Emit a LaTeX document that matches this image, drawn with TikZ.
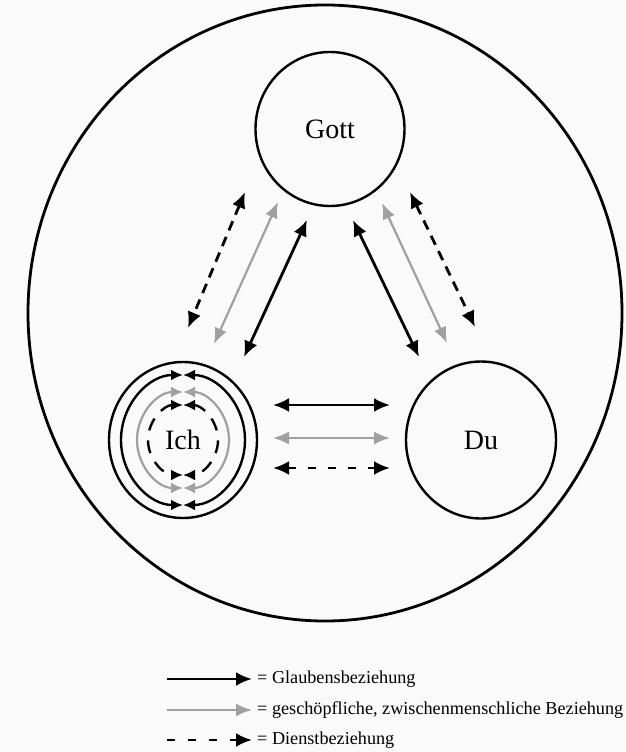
\documentclass[tikz,border=0pt]{standalone}
\usepackage{fontspec}
\setmainfont{Liberation Serif}
\usetikzlibrary{arrows.meta,shapes.geometric}

\definecolor{paper}{RGB}{250,250,250}
\definecolor{lightline}{RGB}{160,160,160}

\begin{document}
\begin{tikzpicture}[x=1pt,y=-1pt,
  circ/.style={ellipse, draw, line width=2.4pt, inner sep=0pt, outer sep=0pt,
    font=\fontsize{28}{30}\selectfont},
  faitharrow/.style={line width=2.8pt, black, {Latex[length=16pt,width=14pt]}-{Latex[length=16pt,width=14pt]}},
  creaturearrow/.style={line width=2.2pt, lightline, {Latex[length=16pt,width=13pt]}-{Latex[length=16pt,width=13pt]}},
  servicearrow/.style={line width=2.8pt, black, dash pattern=on 10pt off 7pt,
    {Latex[length=16pt,width=14pt]}-{Latex[length=16pt,width=14pt]}},
  ringfaith/.style={line width=2.4pt, black, {Latex[length=12pt,width=11pt]}-{Latex[length=12pt,width=11pt]}},
  ringcreature/.style={line width=2.2pt, lightline, {Latex[length=12pt,width=11pt]}-{Latex[length=12pt,width=11pt]}},
  ringservice/.style={line width=2.4pt, black, dash pattern=on 13pt off 10pt,
    {Latex[length=12pt,width=11pt]}-{Latex[length=12pt,width=11pt]}},
  keytext/.style={anchor=west, inner sep=0pt, font=\fontsize{18.2}{20}\selectfont},
]
% page
\path[fill=paper] (0,0) rectangle (626,752);

% the world that encloses everything
\draw[line width=2.8pt] (325,313) ellipse [x radius=297, y radius=308];

% the three partners
\node[circ, minimum width=149pt, minimum height=154pt] (gott) at (330,129) {Gott};
\node[circ, minimum width=150pt, minimum height=157pt] (du) at (481,440) {Du};
\node[circ, minimum width=148pt, minimum height=156pt] (ich) at (183,440) {Ich};

% relation of the self to itself: three circular double arrows
\draw[ringfaith] ([shift={(0,-65)}]ich.center) arc[start angle=-90, end angle=-270, x radius=62, y radius=65];
\draw[ringfaith] ([shift={(0,-65)}]ich.center) arc[start angle=-90, end angle=90, x radius=62, y radius=65];
\draw[ringcreature] ([shift={(0,-48)}]ich.center) arc[start angle=-90, end angle=-270, x radius=46, y radius=48];
\draw[ringcreature] ([shift={(0,-48)}]ich.center) arc[start angle=-90, end angle=90, x radius=46, y radius=48];
\draw[ringservice] ([shift={(0,-35)}]ich.center) arc[start angle=-90, end angle=-270, x radius=35, y radius=35];
\draw[ringservice] ([shift={(0,-35)}]ich.center) arc[start angle=-90, end angle=90, x radius=35, y radius=35];

% end points of the connectors
\coordinate (gl1) at (245,192);  \coordinate (il1) at (188,328);
\coordinate (gl2) at (278,202);  \coordinate (il2) at (214,344);
\coordinate (gl3) at (307,220);  \coordinate (il3) at (244,357);
\coordinate (gr3) at (353,220);  \coordinate (dr3) at (419,357);
\coordinate (gr2) at (382,203);  \coordinate (dr2) at (447,343);
\coordinate (gr1) at (410,192);  \coordinate (dr1) at (475,327);
\coordinate (ih1) at (273,405);  \coordinate (dh1) at (390,405);
\coordinate (ih2) at (273,438);  \coordinate (dh2) at (390,438);
\coordinate (ih3) at (273,468);  \coordinate (dh3) at (390,468);

% Gott -- Ich
\draw[servicearrow] (gl1) -- (il1);
\draw[creaturearrow] (gl2) -- (il2);
\draw[faitharrow] (gl3) -- (il3);
% Gott -- Du
\draw[faitharrow] (gr3) -- (dr3);
\draw[creaturearrow] (gr2) -- (dr2);
\draw[servicearrow] (gr1) -- (dr1);
% Ich -- Du
\draw[faitharrow] (ih1) -- (dh1);
\draw[creaturearrow] (ih2) -- (dh2);
\draw[servicearrow, dash pattern=on 8pt off 12pt] (ih3) -- (dh3);

% key
\coordinate (k1a) at (167,679); \coordinate (k1b) at (252,679);
\coordinate (k2a) at (167,710); \coordinate (k2b) at (252,710);
\coordinate (k3a) at (167,740); \coordinate (k3b) at (252,740);
\draw[line width=2.8pt, black, -{Latex[length=16pt,width=14pt]}] (k1a) -- (k1b);
\draw[line width=2.2pt, lightline, -{Latex[length=16pt,width=13pt]}] (k2a) -- (k2b);
\draw[line width=2.8pt, black, dash pattern=on 8pt off 13pt, -{Latex[length=16pt,width=14pt]}] (k3a) -- (k3b);
\node[keytext] (key1) at (257,679) {= Glaubensbeziehung};
\node[keytext] (key2) at (257,710) {= geschöpfliche, zwischenmenschliche Beziehung};
\node[keytext] (key3) at (257,740) {= Dienstbeziehung};
\end{tikzpicture}
\end{document}
